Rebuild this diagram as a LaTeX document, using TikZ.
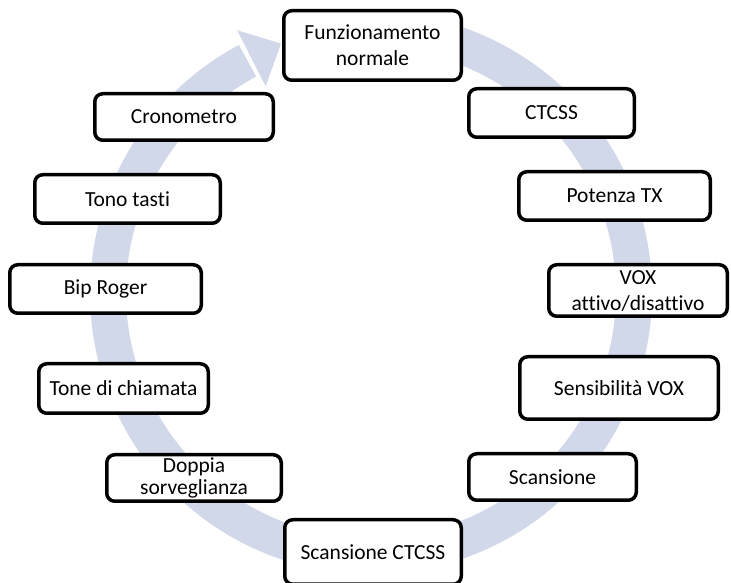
\documentclass[tikz,border=0pt]{standalone}
\usepackage{fontspec}
\setmainfont{Carlito}[Ligatures={NoCommon}]
\usetikzlibrary{calc}
\definecolor{bandcol}{RGB}{208,216,234}
\begin{document}
\begin{tikzpicture}[x=1pt,y=1pt,
 box/.style={draw=black, line width=3.5pt, rounded corners=8pt, fill=white, align=center, font=\fontsize{21.5}{26}\selectfont, inner sep=0pt}]
\useasboundingbox (0,0) rectangle (731,583);
\coordinate (C) at (371,290);
\draw[bandcol, line width=36pt] ($(C)+(95:263)$) arc[start angle=95, end angle=-242, radius=263];
\fill[bandcol] ($(C)+(117:232)$) -- ($(C)+(117:295)$) -- ($(C)+(117:263)+(27:33)$) -- cycle;
\node[box, minimum width=177.5pt, minimum height=69.5pt] (n1) at (372.5,537.5) {Funzionamento\\normale};
\node[box, minimum width=165.5pt, minimum height=48.5pt] (n2) at (551.5,470) {CTCSS};
\node[box, minimum width=191.5pt, minimum height=48.5pt] (n3) at (614.5,387) {Potenza TX};
\node[box, minimum width=178.5pt, minimum height=51.5pt] (n4) at (638,292.5) {VOX\\attivo/disattivo};
\node[box, minimum width=198.5pt, minimum height=62.5pt] (n5) at (619,195) {Sensibilità VOX};
\node[box, minimum width=167.5pt, minimum height=46.5pt] (n6) at (552.5,106) {Scansione};
\node[box, minimum width=176.5pt, minimum height=64.5pt] (n7) at (373,31) {Scansione CTCSS};
\node[box, minimum width=174.5pt, minimum height=46.5pt, font=\fontsize{21.5}{22}\selectfont] (n8) at (194,105) {Doppia\\sorveglianza};
\node[box, minimum width=169.5pt, minimum height=49.5pt] (n9) at (123.5,194.5) {Tone di chiamata};
\node[box, minimum width=191.5pt, minimum height=48.5pt] (n10) at (105.5,294) {Bip Roger};
\node[box, minimum width=185.5pt, minimum height=48.5pt] (n11) at (127.5,384) {Tono tasti};
\node[box, minimum width=178.5pt, minimum height=46.5pt] (n12) at (184,466) {Cronometro};
\end{tikzpicture}
\end{document}
